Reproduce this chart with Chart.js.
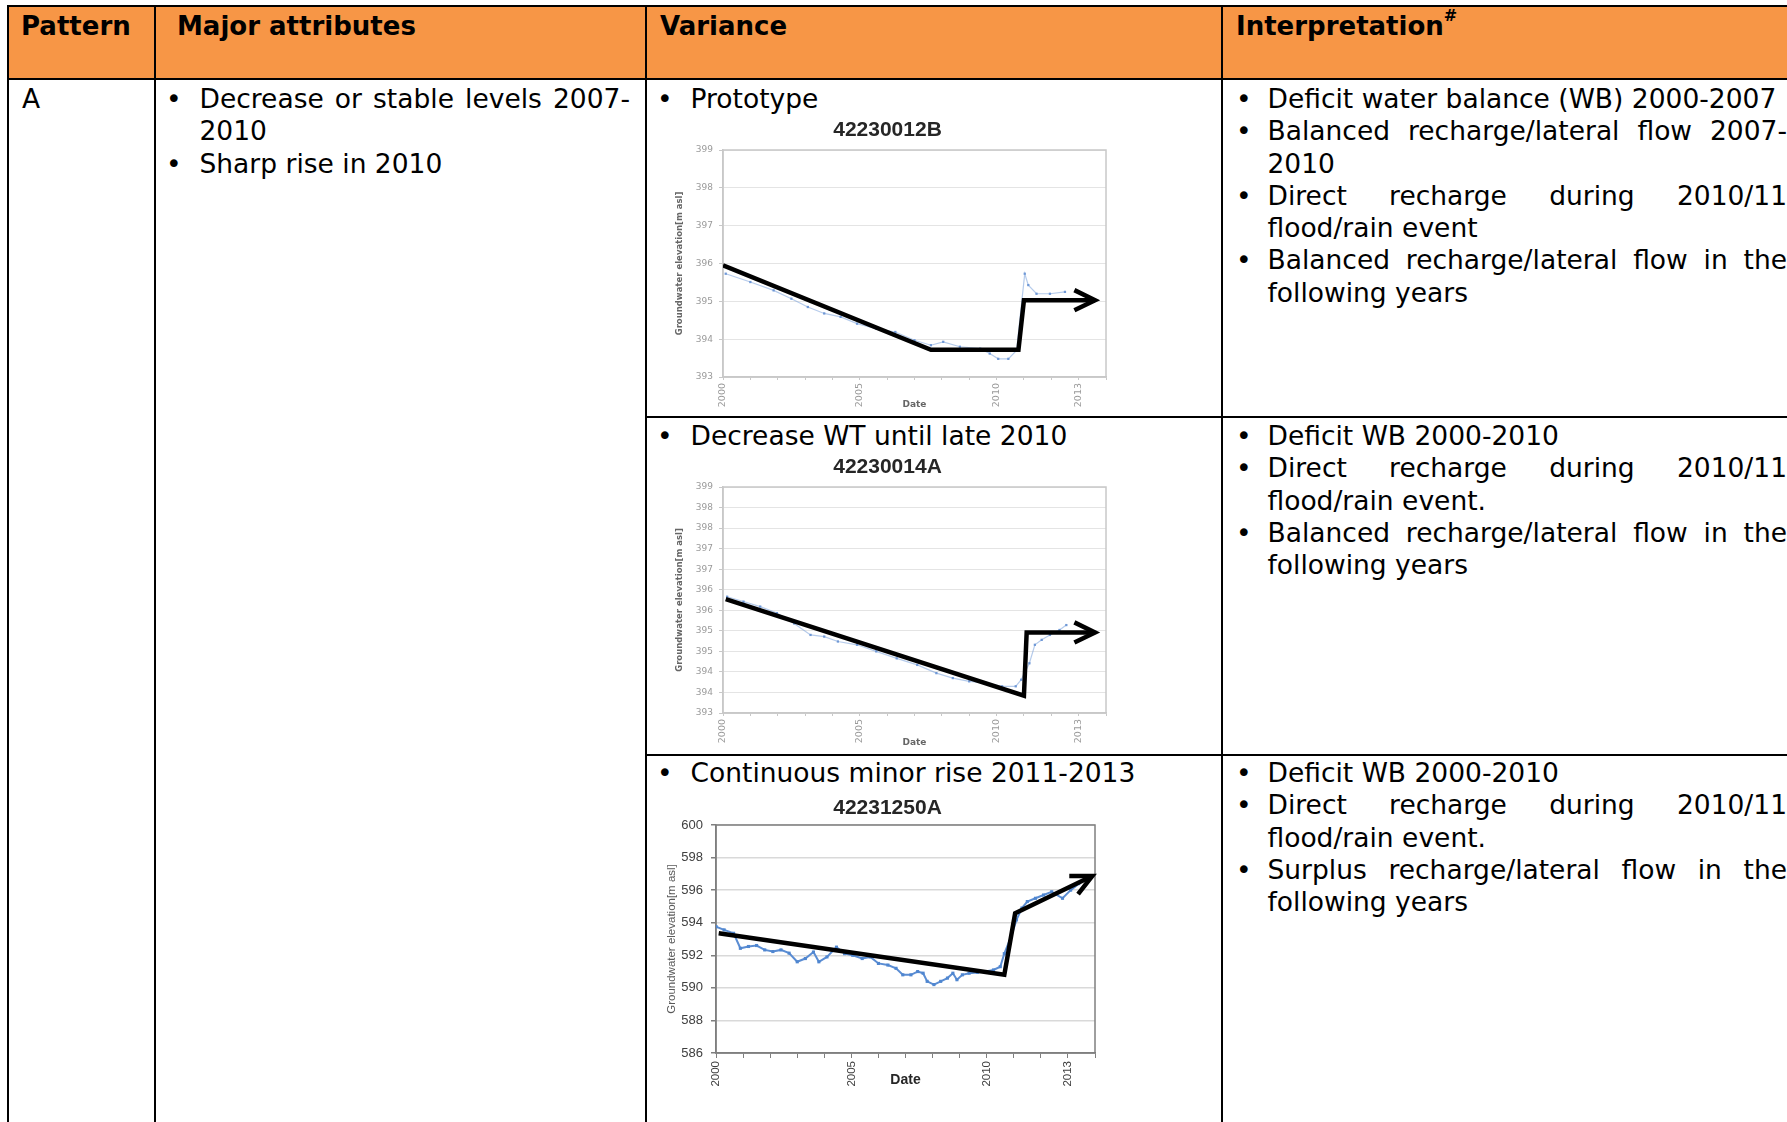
<!DOCTYPE html>
<html>
<head>
<meta charset="utf-8">
<script src="https://cdn.jsdelivr.net/npm/chart.js@4.4.0/dist/chart.umd.min.js"></script>
<style>
html, body { margin: 0; padding: 0; background: #fff; }
body { width: 1787px; height: 1122px; position: relative; overflow: hidden;
       font-family: 'DejaVu Sans', Verdana, sans-serif; color: #000; }
.hdr { position: absolute; left: 9px; top: 7px; width: 1778px; height: 71px; background: #f79646; }
.ln { position: absolute; background: #000; }
.th { position: absolute; top: 10px; font-weight: bold; font-size: 26px; line-height: 32px; white-space: nowrap; }
.th sup { font-size: 16px; line-height: 0; position: relative; top: -4px; }
.cell { position: absolute; font-size: 26.5px; line-height: 32.3px; }
.item { position: relative; text-align: justify; }
.item::before { content: '\2022'; position: absolute; left: 0; }
.nw { white-space: nowrap; }
canvas { position: absolute; }
</style>
</head>
<body>

<!-- table frame -->
<div class="hdr"></div>
<div class="ln" style="left:7px;top:5px;width:1780px;height:2px"></div>
<div class="ln" style="left:7px;top:78px;width:1780px;height:2px"></div>
<div class="ln" style="left:7px;top:5px;width:2px;height:1117px"></div>
<div class="ln" style="left:154px;top:5px;width:2px;height:1117px"></div>
<div class="ln" style="left:645px;top:5px;width:2px;height:1117px"></div>
<div class="ln" style="left:1221px;top:5px;width:2px;height:1117px"></div>
<div class="ln" style="left:645px;top:416px;width:1142px;height:2px"></div>
<div class="ln" style="left:645px;top:754px;width:1142px;height:2px"></div>

<!-- header -->
<div class="th" style="left:21px">Pattern</div>
<div class="th" style="left:177px">Major attributes</div>
<div class="th" style="left:660px">Variance</div>
<div class="th" style="left:1236px">Interpretation<sup>#</sup></div>

<!-- pattern / attributes -->
<div class="cell" style="left:22px;top:83px">A</div>
<div class="cell" style="left:166px;top:83px;width:464px">
  <div class="item" style="padding-left:33.5px">Decrease or stable levels 2007-<wbr>2010</div>
  <div class="item" style="padding-left:33.5px">Sharp rise in 2010</div>
</div>

<!-- variance captions -->
<div class="cell" style="left:657px;top:83px;width:560px">
  <div class="item" style="padding-left:33.5px">Prototype</div>
</div>
<div class="cell" style="left:657px;top:420px;width:560px">
  <div class="item" style="padding-left:33.5px">Decrease WT until late 2010</div>
</div>
<div class="cell" style="left:657px;top:757px;width:560px">
  <div class="item" style="padding-left:33.5px">Continuous minor rise 2011-2013</div>
</div>

<!-- interpretation -->
<div class="cell" style="left:1236px;top:83px;width:551px">
  <div class="item" style="padding-left:31.5px">Deficit water balance (WB) 2000-2007</div>
  <div class="item" style="padding-left:31.5px">Balanced <span class="nw">recharge/lateral</span> flow 2007-<wbr>2010</div>
  <div class="item" style="padding-left:31.5px">Direct recharge during <span class="nw">2010/11</span> <span class="nw">flood/rain</span> event</div>
  <div class="item" style="padding-left:31.5px">Balanced <span class="nw">recharge/lateral</span> flow in the following years</div>
</div>
<div class="cell" style="left:1236px;top:420px;width:551px">
  <div class="item" style="padding-left:31.5px">Deficit WB 2000-2010</div>
  <div class="item" style="padding-left:31.5px">Direct recharge during <span class="nw">2010/11</span> <span class="nw">flood/rain</span> event.</div>
  <div class="item" style="padding-left:31.5px">Balanced <span class="nw">recharge/lateral</span> flow in the following years</div>
</div>
<div class="cell" style="left:1236px;top:757px;width:551px">
  <div class="item" style="padding-left:31.5px">Deficit WB 2000-2010</div>
  <div class="item" style="padding-left:31.5px">Direct recharge during <span class="nw">2010/11</span> <span class="nw">flood/rain</span> event.</div>
  <div class="item" style="padding-left:31.5px">Surplus <span class="nw">recharge/lateral</span> flow in the following years</div>
</div>

<canvas id="chart1" width="465" height="315" style="left:655px;top:100px"></canvas>
<canvas id="chart2" width="465" height="313" style="left:655px;top:440px"></canvas>
<canvas id="chart3" width="465" height="347" style="left:655px;top:775px"></canvas>

<script>
// x axis: a tick mark every year, labels on some of them
const xTickYears = [2000, 2001, 2002, 2003, 2004, 2005, 2006, 2007, 2008, 2009, 2010, 2011, 2012, 2013, 2014];
const xLabelYears = [2000, 2005, 2010, 2013];

// 42230012B - prototype
const protoDates = [2000.1, 2001.0, 2001.85, 2002.5, 2003.1, 2003.7, 2004.3, 2004.9, 2005.6, 2006.3, 2007.0, 2007.6,
                    2008.05, 2008.66, 2009.4, 2009.75, 2010.06, 2010.43, 2010.73, 2011.03, 2011.16, 2011.46, 2011.95, 2012.5];
const protoLevels = [395.73, 395.51, 395.29, 395.07, 394.85, 394.68, 394.59, 394.41, 394.28, 394.19, 393.97, 393.84,
                     393.93, 393.8, 393.75, 393.62, 393.48, 393.48, 393.7, 395.73, 395.43, 395.2, 395.2, 395.25];
const protoTrendDates = [2000.0, 2007.6, 2010.8, 2011.0, 2013.6];
const protoTrendLevels = [395.95, 393.72, 393.72, 395.03, 395.03];
const protoYTicks = [393, 394, 395, 396, 397, 398, 399];
const protoYLabels = ['393', '394', '395', '396', '397', '398', '399'];

// 42230014A - decrease until late 2010
const declineDates = [2000.15, 2000.75, 2001.36, 2001.97, 2002.6, 2003.2, 2003.7, 2004.2, 2004.9, 2005.6, 2006.35, 2007.1,
                      2007.8, 2008.4, 2009.0, 2009.6, 2010.2, 2010.7, 2010.9, 2011.2, 2011.4, 2011.65, 2011.95, 2012.3, 2012.55];
const declineLevels = [396.33, 396.21, 396.09, 395.93, 395.68, 395.4, 395.36, 395.24, 395.16, 395.0, 394.83, 394.67,
                       394.47, 394.35, 394.27, 394.23, 394.15, 394.15, 394.31, 394.71, 395.16, 395.28, 395.4, 395.52, 395.64];
const declineTrendDates = [2000.1, 2011.0, 2011.1, 2013.6];
const declineTrendLevels = [396.27, 393.92, 395.46, 395.46];
const declineYTicks = [393.5, 394, 394.5, 395, 395.5, 396, 396.5, 397, 397.5, 398, 398.5, 399];
const declineYLabels = ['393', '394', '394', '395', '395', '396', '396', '397', '397', '398', '398', '399'];

// 42231250A - continuous minor rise
const riseDates = [2000.0, 2000.3, 2000.65, 2000.9, 2001.2, 2001.5, 2001.8, 2002.1, 2002.4, 2002.7, 2003.0, 2003.3,
                   2003.6, 2003.8, 2004.1, 2004.45, 2004.75, 2005.05, 2005.4, 2005.7, 2006.0, 2006.35, 2006.65, 2006.9,
                   2007.2, 2007.45, 2007.65, 2007.8, 2008.05, 2008.3, 2008.55, 2008.75, 2008.9, 2009.1, 2009.35, 2009.65,
                   2009.95, 2010.25, 2010.5, 2010.65, 2010.9, 2011.1, 2011.3, 2011.5, 2011.8, 2012.1, 2012.4, 2012.8,
                   2013.1, 2013.4, 2013.65];
const riseLevels = [593.76, 593.56, 593.35, 592.43, 592.54, 592.6, 592.33, 592.23, 592.33, 592.13, 591.6, 591.8,
                    592.2, 591.6, 591.9, 592.5, 592.1, 592.0, 591.8, 591.9, 591.5, 591.4, 591.2, 590.8,
                    590.8, 591.0, 590.9, 590.4, 590.2, 590.4, 590.6, 590.9, 590.5, 590.8, 590.9, 590.95,
                    591.0, 591.1, 591.3, 592.1, 593.15, 594.17, 594.9, 595.3, 595.5, 595.7, 595.9, 595.5,
                    596.0, 596.4, 596.8];
const riseTrendDates = [2000.1, 2010.65, 2011.05, 2013.9];
const riseTrendLevels = [593.35, 590.8, 594.58, 596.87];
const riseYTicks = [586, 588, 590, 592, 594, 596, 598, 600];
const riseYLabels = ['586', '588', '590', '592', '594', '596', '598', '600'];

const toPoints = (xs, ys) => xs.map((x, i) => ({ x: x, y: ys[i] }));

// Box around the plot area
const plotFrame = {
    id: 'frame',
    beforeDatasetsDraw(chart, args, opts) {
        const { left, top, right, bottom } = chart.chartArea;
        const ctx = chart.ctx;
        ctx.save();
        ctx.strokeStyle = opts.color;
        ctx.lineWidth = opts.width;
        ctx.strokeRect(left, top, right - left, bottom - top);
        ctx.restore();
    }
};

// Open arrow head at the end of the trend line (dataset 0)
const arrowHead = {
    id: 'arrowHead',
    afterDatasetsDraw(chart) {
        const pts = chart.getDatasetMeta(0).data;
        const tip = pts[pts.length - 1];
        const prev = pts[pts.length - 2];
        const ang = Math.atan2(tip.y - prev.y, tip.x - prev.x);
        const len = 23;
        const spread = 26 * Math.PI / 180;
        const ctx = chart.ctx;
        ctx.save();
        ctx.strokeStyle = '#000';
        ctx.lineWidth = 4.5;
        ctx.lineJoin = 'miter';
        ctx.beginPath();
        ctx.moveTo(tip.x - len * Math.cos(ang - spread), tip.y - len * Math.sin(ang - spread));
        ctx.lineTo(tip.x, tip.y);
        ctx.lineTo(tip.x - len * Math.cos(ang + spread), tip.y - len * Math.sin(ang + spread));
        ctx.stroke();
        ctx.restore();
    }
};

function drawWell(id, c) {
    return new Chart(document.getElementById(id), {
        type: 'line',
        data: {
            datasets: [
                {
                    data: toPoints(c.trendX, c.trendY),
                    borderColor: '#000',
                    borderWidth: 4.5,
                    borderJoinStyle: 'miter',
                    pointRadius: 0
                },
                {
                    data: toPoints(c.x, c.y),
                    borderColor: c.lineColor,
                    borderWidth: c.lineWidth,
                    pointStyle: 'rect',
                    pointRadius: c.dotRadius,
                    pointBackgroundColor: c.dotColor,
                    pointBorderWidth: 0
                }
            ]
        },
        options: {
            responsive: false,
            animation: false,
            devicePixelRatio: 1,
            // same padding both sides so the title sits over the middle of the canvas
            layout: { padding: { left: c.pad, right: c.pad } },
            plugins: {
                legend: { display: false },
                tooltip: { enabled: false },
                title: {
                    display: true,
                    text: c.title,
                    color: '#262626',
                    font: { family: 'Liberation Sans', weight: 'bold', size: 21 },
                    padding: { top: c.titleTop, bottom: c.titleBottom }
                },
                frame: { color: c.frameColor, width: c.frameWidth }
            },
            scales: {
                x: {
                    type: 'linear',
                    min: 2000,
                    max: 2014,
                    afterBuildTicks: s => { s.ticks = xTickYears.map(v => ({ value: v })); },
                    afterFit: s => { s.height = c.xHeight; s.paddingLeft = 0; s.paddingRight = 0; },
                    ticks: {
                        autoSkip: false,
                        minRotation: 90,
                        maxRotation: 90,
                        padding: 3,
                        color: c.tickColor,
                        font: c.xTickFont,
                        callback: v => xLabelYears.includes(v) ? String(v) : ''
                    },
                    grid: { drawOnChartArea: false, tickLength: c.xTickLen, tickColor: c.tickMarkColor },
                    border: { color: c.frameColor, width: c.frameWidth },
                    title: {
                        display: true,
                        text: 'Date',
                        color: c.dateColor,
                        font: c.dateFont,
                        padding: { top: 0, bottom: c.dateBottom }
                    }
                },
                y: {
                    min: c.yTicks[0],
                    max: c.yTicks[c.yTicks.length - 1],
                    afterBuildTicks: s => { s.ticks = c.yTicks.map(v => ({ value: v })); },
                    afterFit: s => { s.width = c.yWidth - c.pad; s.paddingTop = 0; s.paddingBottom = 0; },
                    ticks: {
                        padding: c.yTickPad,
                        color: c.tickColor,
                        font: c.yTickFont,
                        callback: (v, i) => c.yLabels[i]
                    },
                    grid: { color: c.gridColor, lineWidth: c.gridWidth, tickLength: c.yTickLen, tickColor: c.tickMarkColor },
                    border: { color: c.frameColor, width: c.frameWidth },
                    title: {
                        display: true,
                        text: 'Groundwater elevation[m asl]',
                        color: c.yTitleColor,
                        font: c.yTitleFont,
                        padding: { top: c.yTitlePad - c.pad, bottom: 0 }
                    }
                }
            }
        },
        plugins: [plotFrame, arrowHead]
    });
}

// faded look shared by the two upper charts
const smallStyle = {
    pad: 14, yWidth: 68,
    frameColor: '#c8c8c8', frameWidth: 1.5, gridColor: '#e4e4e4', gridWidth: 1,
    tickColor: '#9a9a9a', tickMarkColor: '#c8c8c8',
    xTickFont: { family: 'DejaVu Sans', size: 9.5 }, xTickLen: 3,
    yTickFont: { family: 'DejaVu Sans', size: 9 }, yTickLen: 4, yTickPad: 6,
    dateColor: '#666', dateFont: { family: 'DejaVu Sans', weight: 'bold', size: 9 }, dateBottom: 4.6,
    yTitleColor: '#666', yTitleFont: { family: 'DejaVu Sans', weight: 'bold', size: 8.5 }, yTitlePad: 19.9,
    lineColor: 'rgba(120, 160, 218, 0.55)', lineWidth: 1.2, dotColor: '#6f98d6', dotRadius: 1.6
};

drawWell('chart1', Object.assign({}, smallStyle, {
    title: '42230012B', titleTop: 17.4, titleBottom: 7.4, xHeight: 38,
    x: protoDates, y: protoLevels, trendX: protoTrendDates, trendY: protoTrendLevels,
    yTicks: protoYTicks, yLabels: protoYLabels
}));

drawWell('chart2', Object.assign({}, smallStyle, {
    title: '42230014A', titleTop: 14.4, titleBottom: 7.4, xHeight: 40,
    x: declineDates, y: declineLevels, trendX: declineTrendDates, trendY: declineTrendLevels,
    yTicks: declineYTicks, yLabels: declineYLabels
}));

drawWell('chart3', {
    title: '42231250A', titleTop: 20.4, titleBottom: 4.4, xHeight: 69,
    pad: 25, yWidth: 61,
    frameColor: '#7f7f7f', frameWidth: 1.5, gridColor: '#d9d9d9', gridWidth: 1.5,
    tickColor: '#404040', tickMarkColor: '#7f7f7f',
    xTickFont: { family: 'Liberation Sans', size: 11.5 }, xTickLen: 5,
    yTickFont: { family: 'Liberation Sans', size: 13 }, yTickLen: 5, yTickPad: 8,
    dateColor: '#262626', dateFont: { family: 'Liberation Sans', weight: 'bold', size: 14 }, dateBottom: 33,
    yTitleColor: '#595959', yTitleFont: { family: 'Liberation Sans', size: 11.5 }, yTitlePad: 10.1,
    lineColor: '#5b8dd3', lineWidth: 2, dotColor: '#4f86d0', dotRadius: 2.2,
    x: riseDates, y: riseLevels, trendX: riseTrendDates, trendY: riseTrendLevels,
    yTicks: riseYTicks, yLabels: riseYLabels
});
</script>
</body>
</html>
